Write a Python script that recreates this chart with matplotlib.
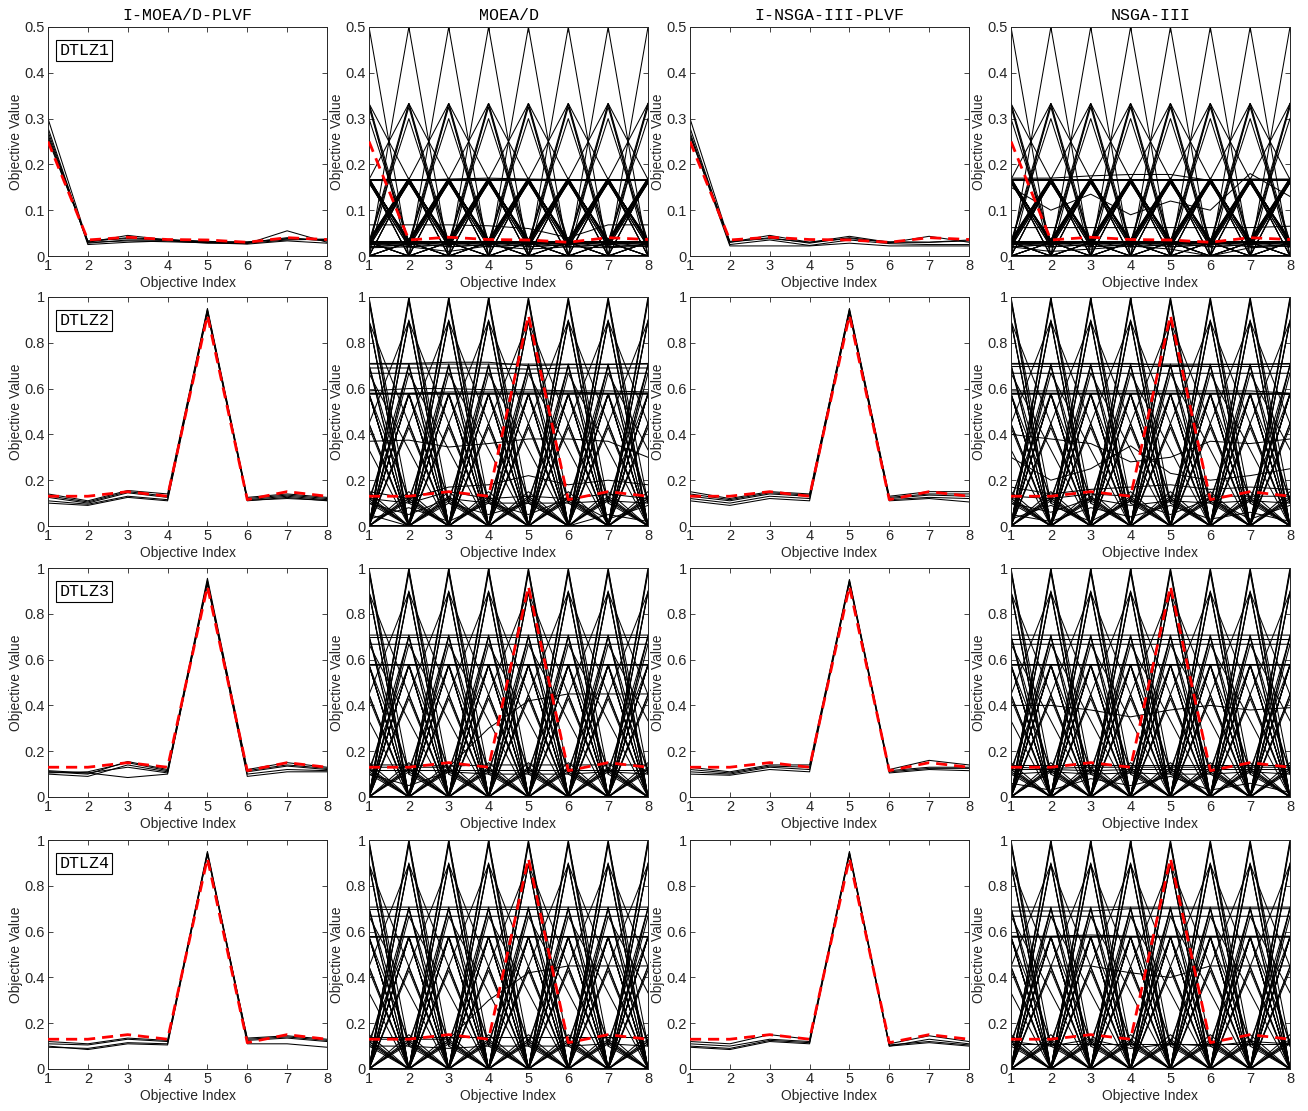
import numpy as np
import matplotlib
matplotlib.use('Agg')
import matplotlib.pyplot as plt
from matplotlib.ticker import FuncFormatter

plt.rcParams['font.family'] = ['Liberation Sans', 'DejaVu Sans']

# Objectives on the x axis
obj_index = np.arange(1, 9)
methods = ['I-MOEA/D-PLVF', 'MOEA/D', 'I-NSGA-III-PLVF', 'NSGA-III']
problems = ['DTLZ1', 'DTLZ2', 'DTLZ3', 'DTLZ4']
y_max = [0.5, 1, 1, 1]

# red dashed line: DM golden point
ref_dtlz1 = [0.250, 0.035, 0.041, 0.036, 0.035, 0.030, 0.040, 0.036]
ref_dtlz234 = [0.130, 0.130, 0.150, 0.130, 0.920, 0.115, 0.150, 0.130]

# interactive methods (few solutions close to the golden point)
imoead_dtlz1 = [
    [0.300, 0.030, 0.045, 0.035, 0.030, 0.027, 0.055, 0.030],
    [0.280, 0.025, 0.030, 0.033, 0.028, 0.028, 0.035, 0.037],
    [0.272, 0.028, 0.035, 0.034, 0.030, 0.030, 0.038, 0.034],
    [0.265, 0.032, 0.040, 0.036, 0.032, 0.029, 0.040, 0.033],
    [0.260, 0.030, 0.033, 0.031, 0.029, 0.026, 0.033, 0.028],
    [0.255, 0.033, 0.038, 0.035, 0.031, 0.031, 0.037, 0.036],
]
insga3_dtlz1 = [
    [0.300, 0.030, 0.045, 0.030, 0.043, 0.030, 0.030, 0.035],
    [0.280, 0.025, 0.035, 0.023, 0.035, 0.027, 0.025, 0.025],
    [0.270, 0.030, 0.040, 0.028, 0.040, 0.029, 0.043, 0.030],
    [0.262, 0.032, 0.038, 0.030, 0.038, 0.031, 0.030, 0.033],
    [0.265, 0.022, 0.022, 0.022, 0.028, 0.022, 0.022, 0.022],
]
imoead_dtlz2 = [
    [0.140, 0.110, 0.155, 0.140, 0.950, 0.125, 0.140, 0.125],
    [0.132, 0.105, 0.150, 0.130, 0.940, 0.120, 0.135, 0.120],
    [0.125, 0.100, 0.145, 0.125, 0.945, 0.115, 0.130, 0.115],
    [0.110, 0.095, 0.130, 0.115, 0.935, 0.110, 0.125, 0.110],
    [0.100, 0.090, 0.125, 0.110, 0.930, 0.112, 0.120, 0.112],
]
insga3_dtlz2 = [
    [0.150, 0.120, 0.150, 0.140, 0.950, 0.130, 0.150, 0.150],
    [0.140, 0.115, 0.145, 0.135, 0.945, 0.125, 0.140, 0.140],
    [0.130, 0.110, 0.140, 0.130, 0.940, 0.120, 0.135, 0.130],
    [0.120, 0.100, 0.130, 0.120, 0.935, 0.115, 0.125, 0.120],
    [0.110, 0.090, 0.120, 0.110, 0.930, 0.110, 0.120, 0.105],
]
imoead_dtlz3 = [
    [0.110, 0.100, 0.155, 0.120, 0.955, 0.120, 0.150, 0.130],
    [0.105, 0.110, 0.150, 0.115, 0.945, 0.115, 0.140, 0.125],
    [0.100, 0.090, 0.140, 0.110, 0.940, 0.110, 0.135, 0.120],
    [0.110, 0.105, 0.085, 0.100, 0.935, 0.090, 0.110, 0.110],
    [0.115, 0.105, 0.130, 0.105, 0.930, 0.100, 0.120, 0.115],
]
insga3_dtlz3 = [
    [0.130, 0.110, 0.140, 0.140, 0.950, 0.120, 0.160, 0.140],
    [0.120, 0.105, 0.135, 0.130, 0.945, 0.115, 0.130, 0.130],
    [0.110, 0.100, 0.130, 0.120, 0.940, 0.110, 0.125, 0.125],
    [0.100, 0.095, 0.120, 0.110, 0.935, 0.105, 0.120, 0.115],
]
imoead_dtlz4 = [
    [0.120, 0.110, 0.135, 0.125, 0.950, 0.130, 0.140, 0.125],
    [0.110, 0.105, 0.130, 0.120, 0.945, 0.125, 0.135, 0.120],
    [0.100, 0.085, 0.110, 0.105, 0.940, 0.110, 0.110, 0.095],
    [0.095, 0.090, 0.115, 0.110, 0.935, 0.135, 0.145, 0.130],
]
insga3_dtlz4 = [
    [0.120, 0.110, 0.150, 0.130, 0.950, 0.110, 0.145, 0.120],
    [0.110, 0.100, 0.130, 0.120, 0.945, 0.100, 0.130, 0.110],
    [0.100, 0.090, 0.125, 0.115, 0.940, 0.105, 0.120, 0.105],
    [0.095, 0.085, 0.120, 0.110, 0.935, 0.100, 0.115, 0.100],
]

# baseline methods spread over the whole front: each pattern below shows up
# starting at every objective position
dtlz1_patterns = [
    [0.500, 0.000, 0.000, 0.000, 0.000, 0.000, 0.000, 0.000],
    [0.333, 0.167, 0.000, 0.000, 0.000, 0.000, 0.000, 0.000],
    [0.333, 0.000, 0.000, 0.000, 0.000, 0.000, 0.000, 0.167],
    [0.333, 0.030, 0.030, 0.030, 0.030, 0.030, 0.030, 0.030],
    [0.325, 0.020, 0.025, 0.030, 0.020, 0.025, 0.030, 0.025],
    [0.300, 0.030, 0.030, 0.030, 0.030, 0.030, 0.030, 0.030],
    [0.167, 0.030, 0.167, 0.030, 0.167, 0.030, 0.167, 0.030],
    [0.170, 0.025, 0.165, 0.035, 0.170, 0.025, 0.165, 0.035],
    [0.160, 0.035, 0.160, 0.020, 0.160, 0.035, 0.160, 0.020],
    [0.167, 0.167, 0.030, 0.030, 0.030, 0.030, 0.030, 0.030],
    [0.167, 0.030, 0.030, 0.030, 0.167, 0.030, 0.030, 0.030],
    [0.167, 0.000, 0.167, 0.000, 0.000, 0.000, 0.000, 0.000],
    [0.030, 0.000, 0.030, 0.000, 0.030, 0.000, 0.030, 0.000],
]
moead_dtlz1_extra = [
    [0.167, 0.167, 0.167, 0.167, 0.167, 0.167, 0.167, 0.167],
    [0.165, 0.165, 0.168, 0.170, 0.168, 0.167, 0.167, 0.167],
    [0.068, 0.068, 0.068, 0.066, 0.060, 0.040, 0.068, 0.068],
    [0.032, 0.032, 0.032, 0.032, 0.032, 0.032, 0.032, 0.032],
    [0.025, 0.027, 0.030, 0.028, 0.026, 0.027, 0.030, 0.028],
    [0.018, 0.020, 0.010, 0.022, 0.015, 0.020, 0.018, 0.022],
    [0.000, 0.000, 0.000, 0.000, 0.000, 0.000, 0.000, 0.000],
]
nsga3_dtlz1_extra = [
    [0.167, 0.167, 0.167, 0.167, 0.167, 0.167, 0.167, 0.167],
    [0.170, 0.170, 0.175, 0.178, 0.178, 0.165, 0.168, 0.168],
    [0.150, 0.100, 0.135, 0.090, 0.120, 0.100, 0.180, 0.130],
    [0.062, 0.062, 0.062, 0.062, 0.062, 0.062, 0.062, 0.065],
    [0.032, 0.032, 0.032, 0.032, 0.032, 0.032, 0.032, 0.032],
    [0.025, 0.027, 0.030, 0.028, 0.026, 0.027, 0.030, 0.028],
    [0.020, 0.010, 0.015, 0.022, 0.015, 0.000, 0.018, 0.022],
    [0.000, 0.000, 0.000, 0.000, 0.000, 0.000, 0.000, 0.000],
]

sphere_patterns = [
    [1.000, 0.000, 0.000, 0.000, 0.000, 0.000, 0.000, 0.000],
    [0.990, 0.100, 0.000, 0.000, 0.000, 0.000, 0.000, 0.000],
    [0.980, 0.000, 0.150, 0.000, 0.000, 0.000, 0.000, 0.000],
    [0.894, 0.447, 0.000, 0.000, 0.000, 0.000, 0.000, 0.000],
    [0.447, 0.894, 0.000, 0.000, 0.000, 0.000, 0.000, 0.000],
    [0.900, 0.000, 0.430, 0.000, 0.000, 0.000, 0.000, 0.000],
    [0.707, 0.707, 0.000, 0.000, 0.000, 0.000, 0.000, 0.000],
    [0.700, 0.100, 0.700, 0.000, 0.000, 0.000, 0.000, 0.000],
    [0.577, 0.577, 0.577, 0.000, 0.000, 0.000, 0.000, 0.000],
    [0.577, 0.000, 0.577, 0.000, 0.577, 0.000, 0.000, 0.000],
    [0.667, 0.667, 0.333, 0.000, 0.000, 0.000, 0.000, 0.000],
    [0.577, 0.120, 0.577, 0.577, 0.000, 0.000, 0.000, 0.000],
    [0.447, 0.000, 0.894, 0.000, 0.000, 0.000, 0.000, 0.000],
    [0.120, 0.000, 0.130, 0.000, 0.120, 0.000, 0.110, 0.000],
]
moead_dtlz2_extra = [
    [0.710, 0.710, 0.715, 0.715, 0.700, 0.705, 0.705, 0.710],
    [0.690, 0.690, 0.690, 0.690, 0.685, 0.690, 0.690, 0.690],
    [0.590, 0.600, 0.600, 0.595, 0.595, 0.590, 0.590, 0.585],
    [0.580, 0.580, 0.585, 0.585, 0.585, 0.585, 0.580, 0.580],
    [0.370, 0.375, 0.345, 0.360, 0.380, 0.380, 0.370, 0.300],
    [0.150, 0.120, 0.170, 0.180, 0.220, 0.180, 0.200, 0.180],
    [0.120, 0.100, 0.150, 0.120, 0.130, 0.120, 0.140, 0.120],
    [0.100, 0.050, 0.120, 0.100, 0.100, 0.100, 0.110, 0.100],
    [0.050, 0.000, 0.100, 0.050, 0.100, 0.000, 0.050, 0.020],
    [0.030, 0.080, 0.020, 0.100, 0.050, 0.120, 0.030, 0.090],
    [0.000, 0.000, 0.000, 0.000, 0.000, 0.000, 0.000, 0.000],
]
nsga3_dtlz2_extra = [
    [0.710, 0.710, 0.710, 0.710, 0.700, 0.705, 0.705, 0.710],
    [0.700, 0.700, 0.700, 0.700, 0.700, 0.700, 0.700, 0.700],
    [0.590, 0.590, 0.590, 0.590, 0.590, 0.590, 0.590, 0.580],
    [0.580, 0.580, 0.580, 0.580, 0.580, 0.580, 0.580, 0.575],
    [0.400, 0.380, 0.360, 0.280, 0.300, 0.370, 0.360, 0.380],
    [0.300, 0.200, 0.250, 0.350, 0.230, 0.200, 0.220, 0.250],
    [0.170, 0.140, 0.160, 0.170, 0.180, 0.160, 0.170, 0.160],
    [0.130, 0.120, 0.140, 0.130, 0.130, 0.130, 0.130, 0.130],
    [0.100, 0.060, 0.120, 0.090, 0.110, 0.100, 0.110, 0.100],
    [0.050, 0.020, 0.080, 0.040, 0.090, 0.030, 0.060, 0.020],
    [0.030, 0.090, 0.020, 0.110, 0.050, 0.120, 0.030, 0.090],
    [0.000, 0.000, 0.000, 0.000, 0.000, 0.000, 0.000, 0.000],
]
moead_dtlz3_extra = [
    [0.700, 0.700, 0.700, 0.700, 0.700, 0.700, 0.700, 0.700],
    [0.580, 0.580, 0.580, 0.580, 0.580, 0.580, 0.580, 0.580],
    [0.130, 0.130, 0.130, 0.300, 0.420, 0.450, 0.450, 0.450],
    [0.140, 0.140, 0.135, 0.140, 0.140, 0.140, 0.140, 0.140],
    [0.120, 0.120, 0.120, 0.120, 0.120, 0.120, 0.120, 0.120],
    [0.100, 0.050, 0.110, 0.100, 0.100, 0.100, 0.110, 0.100],
    [0.000, 0.000, 0.000, 0.000, 0.000, 0.000, 0.000, 0.000],
]
nsga3_dtlz3_extra = [
    [0.690, 0.690, 0.690, 0.690, 0.690, 0.690, 0.690, 0.690],
    [0.580, 0.580, 0.580, 0.580, 0.580, 0.580, 0.580, 0.580],
    [0.400, 0.400, 0.380, 0.350, 0.380, 0.400, 0.380, 0.390],
    [0.140, 0.140, 0.140, 0.140, 0.140, 0.140, 0.140, 0.140],
    [0.130, 0.125, 0.130, 0.130, 0.130, 0.130, 0.130, 0.130],
    [0.120, 0.120, 0.115, 0.120, 0.120, 0.120, 0.120, 0.120],
    [0.100, 0.110, 0.100, 0.105, 0.100, 0.100, 0.110, 0.100],
    [0.060, 0.030, 0.080, 0.050, 0.090, 0.030, 0.060, 0.020],
    [0.000, 0.000, 0.000, 0.000, 0.000, 0.000, 0.000, 0.000],
]
moead_dtlz4_extra = [
    [0.700, 0.700, 0.700, 0.700, 0.700, 0.700, 0.700, 0.700],
    [0.580, 0.580, 0.580, 0.580, 0.580, 0.580, 0.580, 0.580],
    [0.130, 0.130, 0.130, 0.300, 0.420, 0.450, 0.450, 0.450],
    [0.140, 0.140, 0.140, 0.140, 0.140, 0.140, 0.140, 0.140],
    [0.100, 0.100, 0.090, 0.100, 0.100, 0.100, 0.110, 0.100],
    [0.000, 0.000, 0.000, 0.000, 0.000, 0.000, 0.000, 0.000],
]
nsga3_dtlz4_extra = [
    [0.690, 0.690, 0.690, 0.700, 0.700, 0.700, 0.700, 0.700],
    [0.580, 0.580, 0.585, 0.580, 0.580, 0.580, 0.580, 0.580],
    [0.450, 0.450, 0.450, 0.420, 0.400, 0.450, 0.450, 0.450],
    [0.110, 0.110, 0.110, 0.110, 0.110, 0.110, 0.110, 0.110],
    [0.120, 0.100, 0.130, 0.090, 0.110, 0.100, 0.120, 0.110],
    [0.000, 0.000, 0.000, 0.000, 0.000, 0.000, 0.000, 0.000],
]


def every_position(patterns):
    rows = []
    for p in patterns:
        for k in range(len(obj_index)):
            rows.append(np.roll(p, k))
    return rows


panel_rows = {
    (0, 0): imoead_dtlz1,
    (0, 1): every_position(dtlz1_patterns) + moead_dtlz1_extra,
    (0, 2): insga3_dtlz1,
    (0, 3): every_position(dtlz1_patterns) + nsga3_dtlz1_extra,
    (1, 0): imoead_dtlz2,
    (1, 1): every_position(sphere_patterns) + moead_dtlz2_extra,
    (1, 2): insga3_dtlz2,
    (1, 3): every_position(sphere_patterns) + nsga3_dtlz2_extra,
    (2, 0): imoead_dtlz3,
    (2, 1): every_position(sphere_patterns) + moead_dtlz3_extra,
    (2, 2): insga3_dtlz3,
    (2, 3): every_position(sphere_patterns) + nsga3_dtlz3_extra,
    (3, 0): imoead_dtlz4,
    (3, 1): every_position(sphere_patterns) + moead_dtlz4_extra,
    (3, 2): insga3_dtlz4,
    (3, 3): every_position(sphere_patterns) + nsga3_dtlz4_extra,
}

axis_grey = '#262626'
fig = plt.figure(figsize=(13.08, 11.11), dpi=100)

col_left = [48, 369, 690, 1011]
row_top = [27, 297, 568, 840]
W, H = 1308.0, 1111.0
ax_w, ax_h = 279, 229

for r in range(4):
    for c in range(4):
        ax = fig.add_axes([col_left[c] / W, 1 - (row_top[r] + ax_h) / H, ax_w / W, ax_h / H])
        for row in panel_rows[(r, c)]:
            ax.plot(obj_index, row, color='k', lw=0.75)
        ref = ref_dtlz1 if r == 0 else ref_dtlz234
        ax.plot(obj_index, ref, color='red', lw=2.0, dashes=(4, 2.5), zorder=5)

        ax.set_xlim(1, 8)
        ax.set_ylim(0, y_max[r])
        ax.set_xticks(obj_index)
        if r == 0:
            ax.set_yticks(np.arange(0, 0.51, 0.1))
        else:
            ax.set_yticks(np.arange(0, 1.01, 0.2))
        ax.yaxis.set_major_formatter(FuncFormatter(lambda v, p: '%g' % round(v, 2)))
        ax.tick_params(direction='in', top=True, right=True, length=3.5, width=0.6,
                       labelsize=10.5, colors=axis_grey, pad=2.5)
        for s in ax.spines.values():
            s.set_color(axis_grey)
            s.set_linewidth(0.7)
        ax.set_xlabel('Objective Index', fontsize=10, color=axis_grey, labelpad=2)
        ax.set_ylabel('Objective Value', fontsize=10, color=axis_grey, labelpad=0.5)
        if r == 0:
            ax.set_title(methods[c], fontsize=12, family='Liberation Mono', pad=5)
        if c == 0:
            ax.text(0.04, 0.93, problems[r], transform=ax.transAxes, va='top', ha='left',
                    fontsize=12, family='Liberation Mono', zorder=10,
                    bbox=dict(boxstyle='square,pad=0.2', facecolor='white',
                              edgecolor='black', linewidth=0.8))

fig.savefig('out.png', dpi=100)
